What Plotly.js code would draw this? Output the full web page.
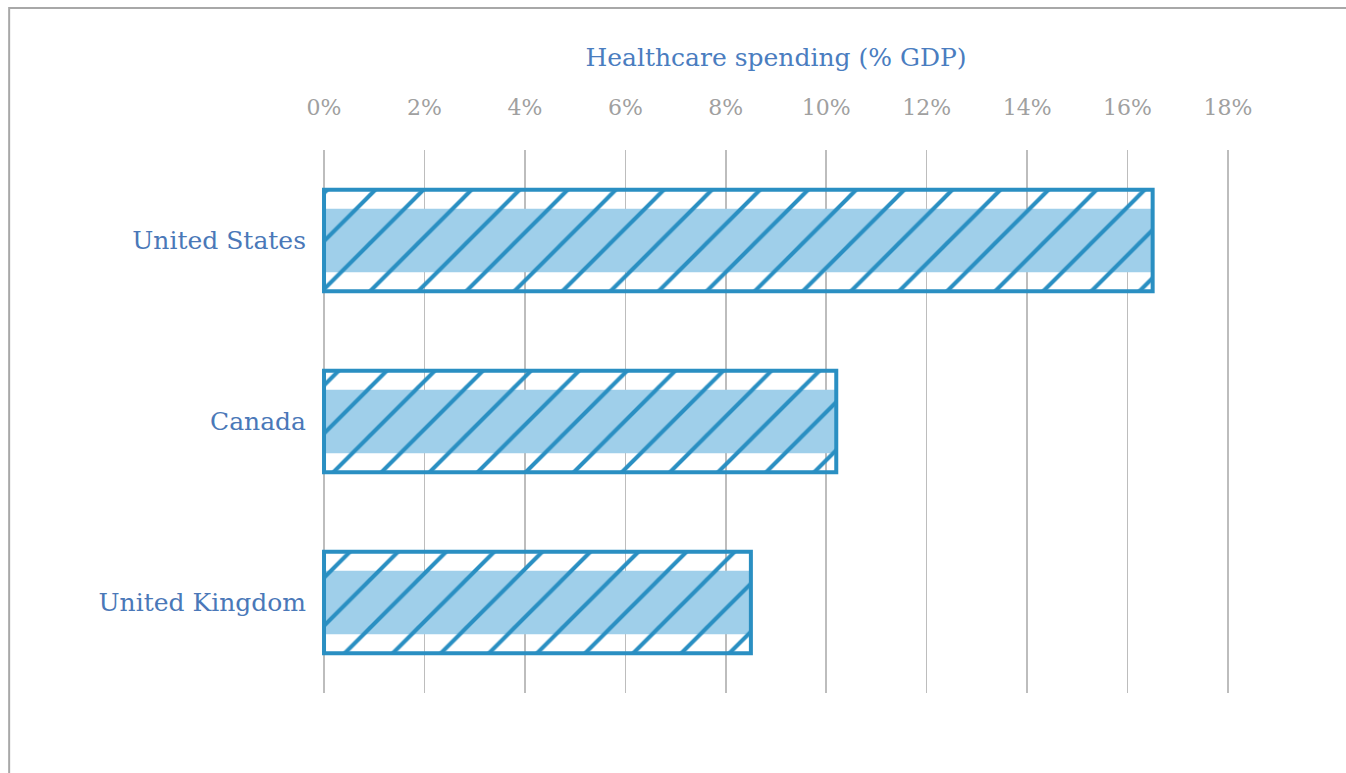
<!DOCTYPE html>
<html>
<head>
<meta charset="utf-8">
<script src="https://cdn.plot.ly/plotly-3.0.1.min.js"></script>
<style>
html,body{margin:0;padding:0;background:#fff;}
#chart{width:1346px;height:773px;}
</style>
</head>
<body>
<div id="chart"></div>
<script>
const countries = ["United States", "Canada", "United Kingdom"];
const spending = [16.5, 10.2, 8.5];
const tickValues = [0, 2, 4, 6, 8, 10, 12, 14, 16, 18];
const tickLabels = ["0%", "2%", "4%", "6%", "8%", "10%", "12%", "14%", "16%", "18%"];

const band = {
  type: "bar", orientation: "h",
  y: countries, x: spending,
  width: 0.35,
  marker: {color: "#9fcfea", line: {width: 0}},
  hoverinfo: "skip", showlegend: false
};
const hatch = {
  type: "bar", orientation: "h",
  y: countries, x: spending,
  width: 0.56,
  marker: {
    color: "rgba(0,0,0,0)",
    line: {color: "#2a8fc2", width: 4},
    pattern: {shape: "/", fgcolor: "#2a8fc2", fgopacity: 1, bgcolor: "rgba(0,0,0,0)", size: 34, solidity: 0.12, fillmode: "overlay"}
  },
  showlegend: false
};

const layout = {
  width: 1346, height: 773,
  margin: {l: 319, r: 113, t: 150, b: 80},
  paper_bgcolor: "#fff", plot_bgcolor: "#fff",
  barmode: "overlay",
  xaxis: {
    side: "top", range: [-0.1, 18.1], tickvals: tickValues, ticktext: tickLabels,
    showgrid: true, gridcolor: "#bdbdbd", gridwidth: 1.5,
    zeroline: true, zerolinecolor: "#bdbdbd", zerolinewidth: 1.5,
    showline: false, ticks: "", ticklabelstandoff: 30,
    tickfont: {family: "DejaVu Serif", size: 22, color: "#a0a0a0"},
    title: {text: "Healthcare spending (% GDP)", standoff: 20,
            font: {family: "DejaVu Serif", size: 25, color: "#4a7dbf"}},
    fixedrange: true
  },
  yaxis: {
    categoryorder: "array", categoryarray: countries, autorange: "reversed",
    showgrid: false, zeroline: false, showline: false, ticks: "",
    ticklabelstandoff: 12,
    tickfont: {family: "DejaVu Serif", size: 25, color: "#4a78b8"},
    fixedrange: true
  },
  shapes: [{
    type: "rect", xref: "paper", yref: "paper",
    x0: -0.339, x1: 1.3, y0: -0.3, y1: 1.2615,
    line: {color: "#a8a8a8", width: 2}, fillcolor: "rgba(0,0,0,0)", layer: "below"
  }]
};

Plotly.newPlot("chart", [band, hatch], layout, {displayModeBar: false, staticPlot: true});
</script>
</body>
</html>
